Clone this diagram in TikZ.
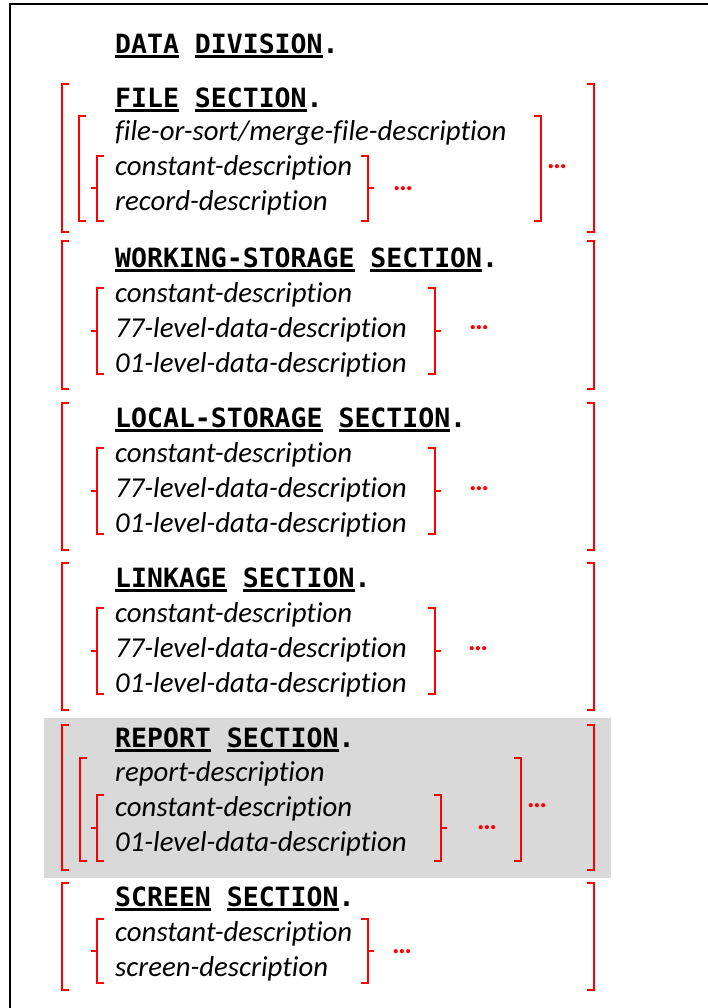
\documentclass[tikz,border=0pt]{standalone}
\usepackage{fontspec}
\setmainfont{Carlito}[Ligatures=NoCommon]
\newfontfamily\kwface{DejaVu Sans Mono}
\newcommand\kwfont{\kwface\bfseries\fontsize{26.5}{30}\selectfont}
\newcommand\descfont{\itshape\fontsize{28.8}{32}\selectfont}
\newcommand\dotfont{\bfseries\fontsize{28}{30}\selectfont}
% underlined keyword
\newsavebox\kwbox
\newcommand\kw[1]{\sbox\kwbox{#1}\rlap{\rule[-4.5pt]{\wd\kwbox}{3pt}}\usebox\kwbox}
% square brackets and braces: x, top y, bottom y (braces also get a middle tick)
\newcommand\leftbrk[3]{\draw[brk] (#1+6,#2) -- (#1,#2) -- (#1,#3) -- (#1+6,#3);}
\newcommand\rightbrk[3]{\draw[brk] (#1-6,#2) -- (#1,#2) -- (#1,#3) -- (#1-6,#3);}
\newcommand\leftcurl[3]{\leftbrk{#1}{#2}{#3}\draw[brk] (#1,{(#2+#3)/2}) -- (#1-5,{(#2+#3)/2});}
\newcommand\rightcurl[3]{\rightbrk{#1}{#2}{#3}\draw[brk] (#1,{(#2+#3)/2}) -- (#1+5,{(#2+#3)/2});}
\tikzset{
  brk/.style={red, line width=2pt, line cap=rect},
  title/.style={anchor=base west, inner sep=0pt, font=\kwfont},
  desc/.style={anchor=base west, inner sep=0pt, font=\descfont},
  more/.style={inner sep=0pt, text=red, font=\dotfont},
}
\begin{document}
\begin{tikzpicture}[x=1pt,y=-1pt]
\useasboundingbox (0,0) rectangle (708,1008);
% frame (runs off the page on the right and bottom)
\draw[line width=2pt] (10,1010) -- (10,4) -- (710,4);
% shaded report section
\fill[gray!30] (44,718) rectangle (611,878);

\node[title] (dd) at (115,54) {\kw{DATA} \kw{DIVISION}.};

% FILE SECTION
\leftbrk{62}{84}{232}\rightbrk{594}{84}{232}
\node[title] (fs) at (115,108) {\kw{FILE} \kw{SECTION}.};
\leftbrk{79}{116}{221}\rightbrk{541}{116}{221}
\node[more] (fsd1) at (557,167) {…};
\node[desc] (fs1) at (115,141) {file-or-sort/merge-file-description};
\leftcurl{97}{156}{221}\rightcurl{368}{156}{221}
\node[desc] (fs2) at (115,176) {constant-description};
\node[desc] (fs3) at (115,211) {record-description};
\node[more] (fsd2) at (403,189) {…};

% WORKING-STORAGE SECTION
\leftbrk{62}{241}{389}\rightbrk{594}{241}{389}
\node[title] (ws) at (115,267) {\kw{WORKING-STORAGE} \kw{SECTION}.};
\leftcurl{97}{288}{374}\rightcurl{435}{288}{374}
\node[desc] (ws1) at (115,302) {constant-description};
\node[desc] (ws2) at (115,337) {77-level-data-description};
\node[desc] (ws3) at (115,372) {01-level-data-description};
\node[more] (wsd) at (479,328) {…};

% LOCAL-STORAGE SECTION
\leftbrk{62}{403}{550}\rightbrk{594}{403}{550}
\node[title] (ls) at (115,427) {\kw{LOCAL-STORAGE} \kw{SECTION}.};
\leftcurl{97}{448}{534}\rightcurl{435}{448}{534}
\node[desc] (ls1) at (115,462) {constant-description};
\node[desc] (ls2) at (115,497) {77-level-data-description};
\node[desc] (ls3) at (115,532) {01-level-data-description};
\node[more] (lsd) at (479,489) {…};

% LINKAGE SECTION
\leftbrk{62}{563}{710}\rightbrk{594}{563}{710}
\node[title] (lk) at (115,587) {\kw{LINKAGE} \kw{SECTION}.};
\leftcurl{97}{608}{694}\rightcurl{435}{608}{694}
\node[desc] (lk1) at (115,622) {constant-description};
\node[desc] (lk2) at (115,657) {77-level-data-description};
\node[desc] (lk3) at (115,692) {01-level-data-description};
\node[more] (lkd) at (478,649) {…};

% REPORT SECTION
\leftbrk{62}{725}{870}\rightbrk{594}{725}{870}
\node[title] (rs) at (115,747) {\kw{REPORT} \kw{SECTION}.};
\leftbrk{80}{758}{861}\rightbrk{521}{758}{861}
\node[more] (rsd1) at (537,806) {…};
\node[desc] (rs1) at (115,781) {report-description};
\leftcurl{97}{795}{861}\rightcurl{441}{795}{861}
\node[desc] (rs2) at (115,816) {constant-description};
\node[desc] (rs3) at (115,851) {01-level-data-description};
\node[more] (rsd2) at (487,828) {…};

% SCREEN SECTION
\leftbrk{62}{883}{990}\rightbrk{594}{883}{990}
\node[title] (sc) at (115,906) {\kw{SCREEN} \kw{SECTION}.};
\leftcurl{97}{919}{983}\rightcurl{368}{919}{983}
\node[desc] (sc1) at (115,941) {constant-description};
\node[desc] (sc2) at (115,976) {screen-description};
\node[more] (scd) at (402,952) {…};
\end{tikzpicture}
\end{document}
